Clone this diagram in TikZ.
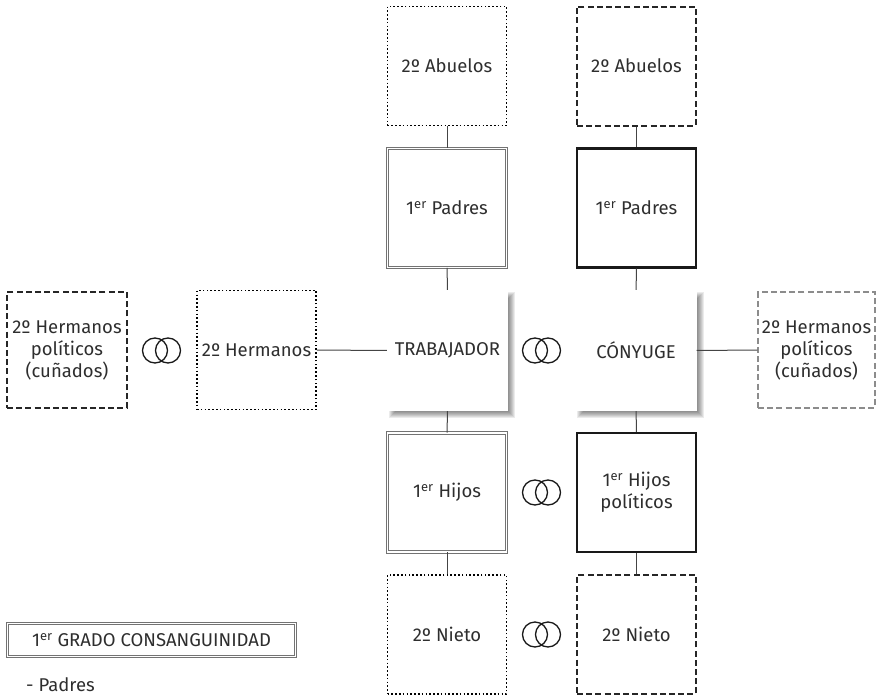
\documentclass[tikz,border=0pt]{standalone}
\usepackage{fontspec}
\setmainfont{Fira Sans}
\usetikzlibrary{calc,backgrounds}
\definecolor{txt}{HTML}{2E2E2E}
\definecolor{ln}{HTML}{444444}
\begin{document}
\begin{tikzpicture}[x=1pt,y=-1pt,
  box/.style={minimum width=119pt, minimum height=119pt, inner sep=0pt, align=center, text=txt, font=\fontsize{18.5}{22}\selectfont},
  dotbox/.style={box, draw=black, line width=1.6pt, dash pattern=on 1.6pt off 2.2pt},
  dashbox/.style={box, draw=black!85, line width=2pt, dash pattern=on 6pt off 3.2pt},
  lightdash/.style={box, draw=black!45, line width=1.4pt, dash pattern=on 6pt off 3.2pt},
  dblbox/.style={box, draw=black!55, line width=0.9pt, double=white, double distance=1.3pt},
  thickbox/.style={box, draw=black!90, line width=2.2pt},
  mainbox/.style={box, fill=white, minimum width=121pt, minimum height=121pt},
  conn/.style={draw=ln, line width=1pt},
  ring/.style={draw=black!90, line width=1.3pt},
]
\useasboundingbox (0,0) rectangle (876,696);
% left column
\node[dotbox] (abL) at (447,66) {2º Abuelos};
\node[dblbox] (paL) at (447,208) {1\textsuperscript{er} Padres};
\node[mainbox] (tr) at (447.5,350.5) {TRABAJADOR};
\node[dblbox] (hiL) at (447,492.5) {1\textsuperscript{er} Hijos};
\node[dotbox] (niL) at (447,634.5) {2º Nieto};
% right column
\node[dashbox] (abR) at (636.5,66) {2º Abuelos};
\node[thickbox] (paR) at (636.5,208) {1\textsuperscript{er} Padres};
\node[mainbox] (co) at (636,350.5) {CÓNYUGE};
\node[thickbox] (hiR) at (636.5,492.5) {1\textsuperscript{er} Hijos\\políticos};
\node[dashbox] (niR) at (636.5,634.5) {2º Nieto};
% sides
\node[dotbox] (he) at (256.5,350) {2º Hermanos};
\node[dashbox, minimum height=116pt, minimum width=120pt] (cuL) at (67,350) {2º Hermanos\\políticos\\(cuñados)};
\node[lightdash, minimum height=116pt, minimum width=117pt] (cuR) at (816.5,350) {2º Hermanos\\políticos\\(cuñados)};
% shadows
\begin{scope}[on background layer]
\foreach \d in {-3,...,3} {
  \fill[black, opacity=0.08] ($(tr.north west)+(5-\d,5-\d)$) rectangle ($(tr.south east)+(4+\d,4+\d)$);
  \fill[black, opacity=0.08] ($(co.north west)+(5-\d,5-\d)$) rectangle ($(co.south east)+(4+\d,4+\d)$);
}
\end{scope}
% connectors
\draw[conn] (abL) -- (paL);
\draw[conn] (paL) -- (tr);
\draw[conn] (tr) -- (hiL);
\draw[conn] (hiL) -- (niL);
\draw[conn] (abR) -- (paR);
\draw[conn] (paR) -- (co);
\draw[conn] (co) -- (hiR);
\draw[conn] (hiR) -- (niR);
\draw[conn] (he) -- (tr);
\draw[conn] (co) -- (cuR);
% rings
\coordinate (r1) at (541.5,350.5);
\coordinate (r2) at (541.5,492.5);
\coordinate (r3) at (541.5,634.5);
\coordinate (r4) at (161.5,350.5);
\foreach \r in {r1,r2,r3,r4} {
  \draw[ring] ($(\r)+(-6.5,0)$) circle (12.5);
  \draw[ring] ($(\r)+(6.5,0)$) circle (12.5);
}
% legend
\node[draw=black!55, line width=0.9pt, double=white, double distance=1.3pt, minimum width=288pt, minimum height=33pt, inner sep=0pt, text=txt, font=\fontsize{18.5}{22}\selectfont] (leg) at (151.5,640) {1\textsuperscript{er} GRADO CONSANGUINIDAD};
\node[anchor=west, inner sep=0pt, text=txt, font=\fontsize{18.5}{22}\selectfont] (lp) at (26,685) {- Padres};
\end{tikzpicture}
\end{document}
